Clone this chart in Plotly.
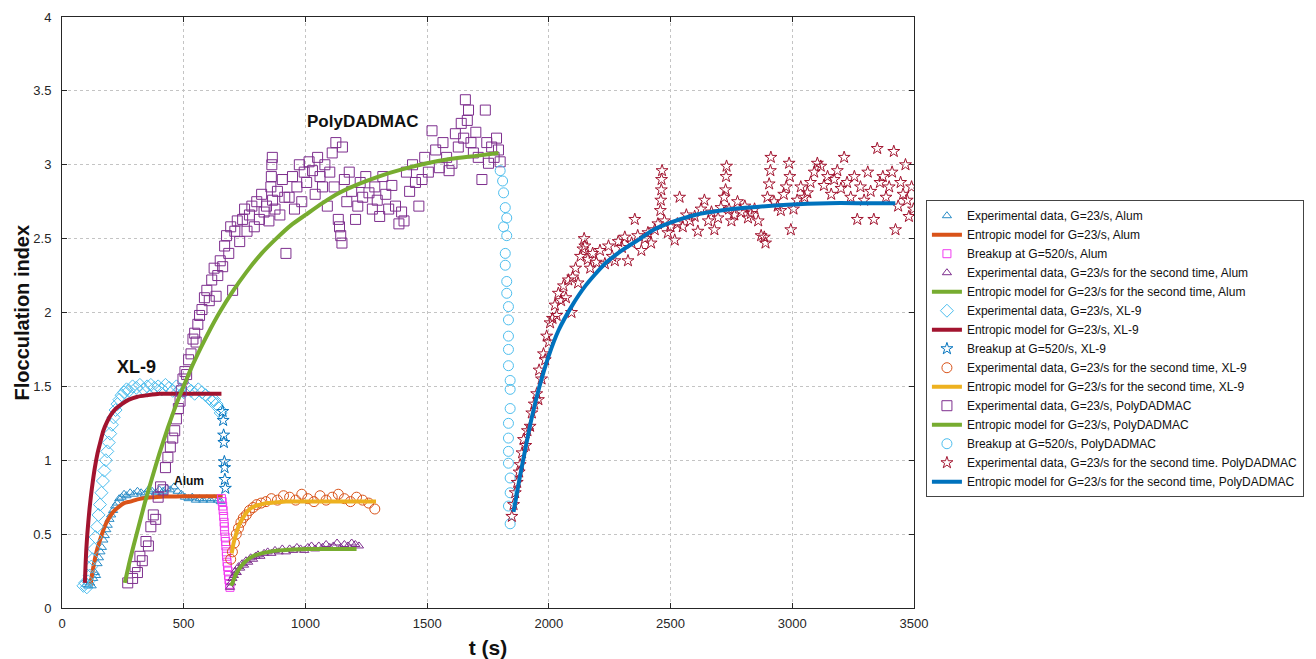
import plotly.graph_objects as go

# ---------------- Alum ----------------
alum_exp_t = [100, 108, 115, 122, 128, 135, 140, 146, 152, 158, 164, 170, 176, 182, 188, 195, 202, 210, 218, 226,
              235, 245, 255, 265, 280, 295, 310, 325, 340, 355, 370, 385, 400, 415, 430, 445, 460, 475, 490, 505,
              520, 535, 550, 565, 580, 595, 610, 625, 640, 652]
alum_exp_fi = [0.16, 0.15, 0.17, 0.15, 0.20, 0.24, 0.22, 0.30, 0.34, 0.38, 0.41, 0.46, 0.49, 0.53, 0.56, 0.60, 0.63, 0.66, 0.69, 0.71,
               0.74, 0.75, 0.77, 0.76, 0.78, 0.77, 0.79, 0.78, 0.77, 0.80, 0.79, 0.78, 0.80, 0.79, 0.81, 0.80, 0.82, 0.79, 0.77, 0.75,
               0.74, 0.75, 0.73, 0.74, 0.73, 0.74, 0.73, 0.74, 0.73, 0.72]

alum_model_t = [117, 125, 135, 145, 160, 175, 190, 210, 230, 255, 280, 310, 340, 380, 420, 470, 520, 570, 620, 660]
alum_model_fi = [0.15, 0.24, 0.33, 0.40, 0.48, 0.55, 0.60, 0.65, 0.68, 0.71, 0.72, 0.735, 0.745, 0.75, 0.755, 0.755, 0.757, 0.757, 0.757, 0.757]

alum_break_t = [655, 658, 660, 662, 664, 666, 667, 668, 670, 672, 673, 675, 676, 678, 680, 682, 684, 686, 688, 690]
alum_break_fi = [0.74, 0.72, 0.69, 0.66, 0.62, 0.58, 0.55, 0.52, 0.48, 0.45, 0.42, 0.38, 0.35, 0.31, 0.28, 0.25, 0.22, 0.19, 0.16, 0.14]

alum_exp2_t = [690, 695, 700, 706, 712, 718, 725, 732, 740, 748, 756, 765, 775, 785, 795, 805, 815, 830, 845, 860,
               875, 890, 905, 920, 935, 950, 965, 980, 995, 1010, 1025, 1040, 1055, 1070, 1085, 1100, 1115, 1130, 1145, 1160,
               1175, 1190, 1205, 1220]
alum_exp2_fi = [0.14, 0.17, 0.20, 0.22, 0.25, 0.24, 0.28, 0.27, 0.30, 0.29, 0.32, 0.31, 0.34, 0.33, 0.35, 0.36, 0.35, 0.37, 0.38, 0.37,
                0.39, 0.38, 0.40, 0.38, 0.40, 0.39, 0.41, 0.40, 0.39, 0.41, 0.42, 0.40, 0.42, 0.41, 0.43, 0.41, 0.42, 0.44, 0.41, 0.43,
                0.42, 0.44, 0.43, 0.42]

alum_model2_t = [695, 705, 715, 730, 745, 765, 790, 820, 850, 890, 930, 980, 1030, 1080, 1130, 1180, 1210]
alum_model2_fi = [0.15, 0.19, 0.23, 0.27, 0.30, 0.33, 0.355, 0.37, 0.38, 0.39, 0.395, 0.398, 0.40, 0.40, 0.40, 0.40, 0.40]

# ---------------- XL-9 ----------------
xl9_exp_t = [88, 95, 102, 108, 114, 120, 126, 132, 138, 144, 150, 156, 162, 168, 174, 180, 186, 192, 198, 205,
             212, 220, 228, 236, 245, 255, 265, 275, 290, 305, 320, 335, 350, 365, 380, 395, 410, 425, 440, 455,
             470, 485, 500, 515, 530, 545, 560, 575, 590, 605, 615, 625, 635, 645, 652]
xl9_exp_fi = [0.15, 0.17, 0.14, 0.18, 0.22, 0.28, 0.33, 0.40, 0.48, 0.55, 0.63, 0.70, 0.78, 0.86, 0.93, 1.00, 1.06, 1.12, 1.18, 1.24,
              1.29, 1.34, 1.38, 1.41, 1.44, 1.46, 1.48, 1.47, 1.50, 1.49, 1.51, 1.48, 1.50, 1.51, 1.49, 1.50, 1.48, 1.51, 1.49, 1.47,
              1.50, 1.48, 1.46, 1.49, 1.47, 1.45, 1.48, 1.46, 1.44, 1.42, 1.40, 1.41, 1.38, 1.35, 1.32]

xl9_model_t = [94, 97, 100, 104, 108, 113, 119, 126, 135, 145, 157, 170, 185, 202, 222, 245, 275, 310, 350, 400,
               460, 520, 580, 640, 655]
xl9_model_fi = [0.17, 0.30, 0.40, 0.50, 0.58, 0.67, 0.76, 0.85, 0.95, 1.04, 1.12, 1.20, 1.26, 1.31, 1.35, 1.38, 1.41, 1.43, 1.44, 1.45,
                1.45, 1.45, 1.45, 1.45, 1.45]

xl9_break_t = [660, 662, 664, 665, 667, 668, 669, 671]
xl9_break_fi = [1.33, 1.27, 1.17, 1.12, 0.99, 0.95, 0.87, 0.81]

xl9_exp2_t = [693, 700, 708, 716, 725, 735, 745, 757, 770, 785, 800, 818, 838, 860, 885, 910, 935, 960, 985, 1010,
              1035, 1060, 1085, 1110, 1135, 1160, 1185, 1210, 1235, 1260, 1285]
xl9_exp2_fi = [0.33, 0.38, 0.44, 0.50, 0.54, 0.58, 0.61, 0.63, 0.66, 0.68, 0.70, 0.71, 0.72, 0.74, 0.73, 0.76, 0.75, 0.73, 0.77, 0.74,
               0.72, 0.76, 0.73, 0.75, 0.77, 0.74, 0.72, 0.75, 0.73, 0.71, 0.67]

xl9_model2_t = [697, 705, 715, 727, 740, 755, 772, 792, 815, 845, 880, 920, 970, 1030, 1100, 1180, 1250, 1290]
xl9_model2_fi = [0.37, 0.44, 0.50, 0.56, 0.60, 0.64, 0.67, 0.69, 0.70, 0.71, 0.715, 0.72, 0.72, 0.72, 0.72, 0.72, 0.72, 0.72]

# ---------------- PolyDADMAC ----------------
pd_exp_t = [270, 290, 300, 310, 320, 330, 345, 355, 365, 375, 385, 395, 405, 415, 425, 435, 445, 455, 463, 470,
            478, 485, 490, 497, 505, 512, 520, 530, 538, 545, 551, 558, 565, 575, 585, 595, 605, 615, 625, 633,
            640, 650, 660, 668, 676, 685, 693, 701, 710, 720, 730, 742, 750, 760, 770, 780, 790, 800, 811, 820,
            830, 840, 850, 858, 860, 862, 864, 865, 875, 885, 895, 905, 915, 920, 933, 947, 955, 965, 975, 985,
            995, 1005, 1015, 1029, 1040, 1050, 1060, 1070, 1080, 1090, 1100, 1110, 1118, 1125, 1135, 1140, 1145, 1150, 1152, 1160,
            1170, 1180, 1190, 1206, 1215, 1225, 1235, 1248, 1261, 1275, 1285, 1295, 1305, 1318, 1330, 1342, 1355, 1370, 1384, 1395,
            1405, 1415, 1428, 1440, 1452, 1466, 1479, 1490, 1505, 1520, 1535, 1550, 1565, 1580, 1590, 1602, 1616, 1628, 1640, 1650,
            1657, 1665, 1670, 1680, 1690, 1700, 1710, 1725, 1739, 1745, 1752, 1765, 1775, 1785, 1793, 1800]
pd_exp_fi = [0.17, 0.20, 0.28, 0.24, 0.35, 0.32, 0.45, 0.42, 0.55, 0.63, 0.60, 0.75, 0.82, 0.80, 0.95, 1.02, 1.09, 1.15, 1.20, 1.28,
             1.35, 1.40, 1.47, 1.55, 1.60, 1.58, 1.68, 1.72, 1.82, 1.86, 1.80, 1.92, 1.98, 2.02, 2.10, 2.15, 2.08, 2.22, 2.30, 2.11,
             2.25, 2.35, 2.31, 2.45, 2.52, 2.40, 2.58, 2.15, 2.55, 2.62, 2.48, 2.63, 2.70, 2.55, 2.66, 2.72, 2.58, 2.75, 2.63, 2.80,
             2.68, 2.72, 2.62, 2.85, 2.92, 3.00, 3.05, 2.76, 2.70, 2.82, 2.66, 2.90, 2.78, 2.40, 2.78, 2.92, 2.70, 2.85, 3.00, 2.75,
             2.95, 2.88, 3.02, 2.96, 2.80, 3.05, 2.92, 2.85, 3.00, 2.72, 2.95, 3.08, 2.85, 3.15, 2.63, 2.58, 2.52, 2.47, 3.12, 2.90,
             2.75, 2.95, 2.82, 2.63, 2.72, 2.88, 2.78, 2.92, 2.81, 2.70, 2.85, 2.76, 2.65, 2.92, 2.80, 2.70, 2.86, 2.72, 2.60, 2.68,
             2.62, 2.95, 2.82, 3.00, 2.88, 2.72, 2.90, 3.05, 2.95, 3.23, 3.10, 2.98, 3.15, 3.05, 2.96, 3.01, 3.21, 3.12, 3.28, 3.18,
             3.44, 3.30, 3.37, 3.15, 3.08, 3.22, 3.05, 2.90, 3.37, 3.15, 3.01, 3.12, 3.05, 3.18, 3.10, 3.02]

pd_model_t = [258, 280, 308, 340, 370, 401, 435, 470, 497, 530, 570, 610, 647, 700, 756, 820, 880, 940, 1000, 1070,
              1140, 1220, 1300, 1400, 1500, 1600, 1700, 1793]
pd_model_fi = [0.17, 0.33, 0.51, 0.71, 0.88, 1.05, 1.22, 1.38, 1.49, 1.62, 1.76, 1.89, 2.00, 2.14, 2.27, 2.40, 2.50, 2.59, 2.66, 2.74,
               2.81, 2.87, 2.92, 2.97, 3.01, 3.04, 3.06, 3.08]

pd_break_t = [1800, 1810, 1814, 1821, 1827, 1814, 1827, 1821, 1821, 1827, 1827, 1834, 1834, 1834, 1834, 1834, 1841, 1841, 1841, 1834,
              1834, 1834, 1834, 1841, 1841, 1834, 1841]
pd_break_fi = [2.96, 2.89, 2.81, 2.71, 2.64, 2.58, 2.52, 2.40, 2.32, 2.21, 2.13, 2.04, 1.95, 1.84, 1.75, 1.64, 1.54, 1.48, 1.35, 1.25,
               1.15, 1.06, 0.98, 0.88, 0.78, 0.69, 0.57]

pd_exp2_t = [1848, 1855, 1862, 1870, 1878, 1882, 1890, 1896, 1905, 1912, 1923, 1930, 1940, 1950, 1957, 1960, 1970, 1978, 1985, 1991,
             2000, 2005, 2015, 2025, 2032, 2039, 2050, 2060, 2070, 2080, 2093, 2098, 2110, 2120, 2130, 2140, 2145, 2148, 2160, 2170,
             2180, 2195, 2210, 2230, 2245, 2260, 2271, 2285, 2300, 2312, 2325, 2340, 2353, 2365, 2380, 2395, 2407, 2420, 2435, 2448,
             2458, 2460, 2462, 2463, 2465, 2475, 2489, 2500, 2517, 2528, 2537, 2550, 2565, 2580, 2599, 2612, 2625, 2639, 2655, 2668,
             2680, 2695, 2707, 2720, 2726, 2728, 2730, 2740, 2750, 2762, 2775, 2790, 2805, 2818, 2830, 2845, 2860, 2872, 2885, 2890,
             2898, 2905, 2910, 2912, 2925, 2940, 2953, 2965, 2975, 2987, 2990, 2994, 3005, 3020, 3035, 3050, 3062, 3075, 3090, 3103,
             3117, 3130, 3145, 3160, 3172, 3185, 3200, 3213, 3225, 3240, 3255, 3267, 3280, 3295, 3310, 3322, 3335, 3349, 3360, 3372,
             3385, 3398, 3410, 3417, 3424, 3435, 3445, 3455, 3465, 3472, 3479, 3490, 3498]
pd_exp2_fi = [0.62, 0.70, 0.78, 0.85, 0.92, 0.97, 1.05, 1.14, 1.10, 1.20, 1.23, 1.32, 1.38, 1.45, 1.41, 1.61, 1.55, 1.72, 1.68, 1.84,
              1.80, 1.93, 1.96, 2.05, 1.98, 2.13, 2.08, 2.18, 2.10, 2.22, 2.00, 2.24, 2.30, 2.20, 2.38, 2.43, 2.50, 2.45, 2.36, 2.30,
              2.40, 2.34, 2.42, 2.33, 2.45, 2.38, 2.35, 2.48, 2.44, 2.51, 2.35, 2.47, 2.63, 2.52, 2.42, 2.50, 2.54, 2.47, 2.56, 2.60,
              2.69, 2.76, 2.83, 2.90, 2.96, 2.62, 2.54, 2.58, 2.49, 2.60, 2.78, 2.58, 2.66, 2.62, 2.65, 2.55, 2.70, 2.76, 2.62, 2.68,
              2.56, 2.64, 2.71, 2.78, 2.83, 2.92, 2.99, 2.70, 2.62, 2.66, 2.75, 2.68, 2.72, 2.64, 2.67, 2.70, 2.62, 2.52, 2.51, 2.47,
              2.78, 2.87, 2.96, 3.05, 2.75, 2.72, 2.69, 2.80, 2.85, 3.01, 2.92, 2.56, 2.70, 2.76, 2.85, 2.78, 2.81, 2.88, 2.95, 3.01,
              2.99, 2.86, 2.92, 2.80, 2.90, 2.96, 2.84, 3.05, 2.88, 2.78, 2.92, 2.63, 2.85, 2.76, 2.95, 2.82, 2.63, 3.11, 2.88, 2.92,
              2.78, 2.85, 2.95, 3.09, 2.56, 2.72, 2.88, 2.80, 3.00, 2.76, 2.65, 2.85, 2.70]

pd_model2_t = [1855, 1880, 1905, 1930, 1960, 1998, 2040, 2093, 2150, 2230, 2300, 2366, 2430, 2502, 2600, 2706, 2820, 2980, 3150, 3300, 3423]
pd_model2_fi = [0.65, 0.88, 1.09, 1.29, 1.49, 1.70, 1.88, 2.04, 2.18, 2.33, 2.42, 2.49, 2.56, 2.61, 2.66, 2.69, 2.71, 2.73, 2.74, 2.74, 2.74]

# ---------------- axis ticks ----------------
t_ticks = [0, 500, 1000, 1500, 2000, 2500, 3000, 3500]
fi_ticks = [0, 0.5, 1, 1.5, 2, 2.5, 3, 3.5, 4]
fi_tick_text = ["0", "0.5", "1", "1.5", "2", "2.5", "3", "3.5", "4"]

BLUE = "#0072BD"
ORANGE = "#D95319"
YELLOW = "#EDB120"
PURPLE = "#7E2F8E"
GREEN = "#77AC30"
CYAN = "#4DBEEE"
DARKRED = "#A2142F"
MAGENTA = "#F03CF0"

fig = go.Figure()


def add_points(name, t, fi, symbol, color, size):
    fig.add_trace(go.Scatter(
        x=t, y=fi, name=name, mode="markers",
        marker=dict(symbol=symbol, size=size, color=color,
                    line=dict(color=color, width=1)),
    ))


def add_model(name, t, fi, color):
    fig.add_trace(go.Scatter(
        x=t, y=fi, name=name, mode="lines",
        line=dict(color=color, width=4, shape="spline", smoothing=0.6),
    ))


add_points("Experimental data, G=23/s, Alum", alum_exp_t, alum_exp_fi, "triangle-up-open", "#2a8cc6", 8)
add_model("Entropic model for G=23/s, Alum", alum_model_t, alum_model_fi, ORANGE)
add_points("Breakup at G=520/s, Alum", alum_break_t, alum_break_fi, "square-open", MAGENTA, 8)
add_points("Experimental data, G=23/s for the second time, Alum", alum_exp2_t, alum_exp2_fi, "triangle-up-open", PURPLE, 8)
add_model("Entropic model for G=23/s for the second time, Alum", alum_model2_t, alum_model2_fi, GREEN)
add_points("Experimental data, G=23/s, XL-9", xl9_exp_t, xl9_exp_fi, "diamond-open", CYAN, 10)
add_model("Entropic model for G=23/s, XL-9", xl9_model_t, xl9_model_fi, DARKRED)
add_points("Breakup at G=520/s, XL-9", xl9_break_t, xl9_break_fi, "star-open", BLUE, 9)
add_points("Experimental data, G=23/s for the second time, XL-9", xl9_exp2_t, xl9_exp2_fi, "circle-open", ORANGE, 10)
add_model("Entropic model for G=23/s for the second time, XL-9", xl9_model2_t, xl9_model2_fi, YELLOW)
add_points("Experimental data, G=23/s, PolyDADMAC", pd_exp_t, pd_exp_fi, "square-open", PURPLE, 10)
add_model("Entropic model for G=23/s, PolyDADMAC", pd_model_t, pd_model_fi, GREEN)
add_points("Breakup at G=520/s, PolyDADMAC", pd_break_t, pd_break_fi, "circle-open", CYAN, 10)
add_points("Experimental data, G=23/s for the second time. PolyDADMAC", pd_exp2_t, pd_exp2_fi, "star-open", DARKRED, 9)
add_model("Entropic model for G=23/s for the second time, PolyDADMAC", pd_model2_t, pd_model2_fi, BLUE)

# material labels inside the plot
fig.add_annotation(x=307, y=1.63, text="<b>XL-9</b>", showarrow=False, font=dict(size=18, color="#111"))
fig.add_annotation(x=1236, y=3.29, text="<b>PolyDADMAC</b>", showarrow=False, font=dict(size=17, color="#111"))
fig.add_annotation(x=520, y=0.86, text="<b>Alum</b>", showarrow=False, font=dict(size=12, color="#111"))

# y-axis title, placed to the left of the tick labels
fig.add_annotation(xref="paper", yref="paper", x=-0.047, y=0.5, xanchor="center", yanchor="middle",
                   text="<b>Flocculation index</b>", textangle=-90, showarrow=False,
                   font=dict(size=20, color="#111"))

axis_common = dict(
    showgrid=True, gridcolor="#c4c4c4", griddash="dot", gridwidth=1,
    showline=True, linecolor="#262626", linewidth=1, mirror="ticks",
    ticks="inside", ticklen=5, tickcolor="#262626",
    tickfont=dict(size=13, color="#262626"), zeroline=False,
    automargin=False,
)

fig.update_xaxes(range=[0, 3500], tickvals=t_ticks, ticktext=[str(v) for v in t_ticks],
                 ticklabelstandoff=3,
                 title=dict(text="<b>t (s)</b>", font=dict(size=21, color="#111"), standoff=12),
                 **axis_common)
fig.update_yaxes(range=[0, 4], tickvals=fi_ticks, ticktext=fi_tick_text,
                 ticklabelstandoff=7,
                 **axis_common)

fig.update_layout(
    width=1316, height=659,
    margin=dict(l=62, r=399, t=17, b=51),
    plot_bgcolor="white", paper_bgcolor="white",
    font=dict(family="Liberation Sans, Arial, sans-serif", color="#262626"),
    legend=dict(x=1.014, y=0.69, xanchor="left", yanchor="top",
                bordercolor="#444", borderwidth=1, bgcolor="white",
                font=dict(size=12, color="#111"), itemwidth=30, tracegroupgap=0),
)

fig.write_html("out.html")
